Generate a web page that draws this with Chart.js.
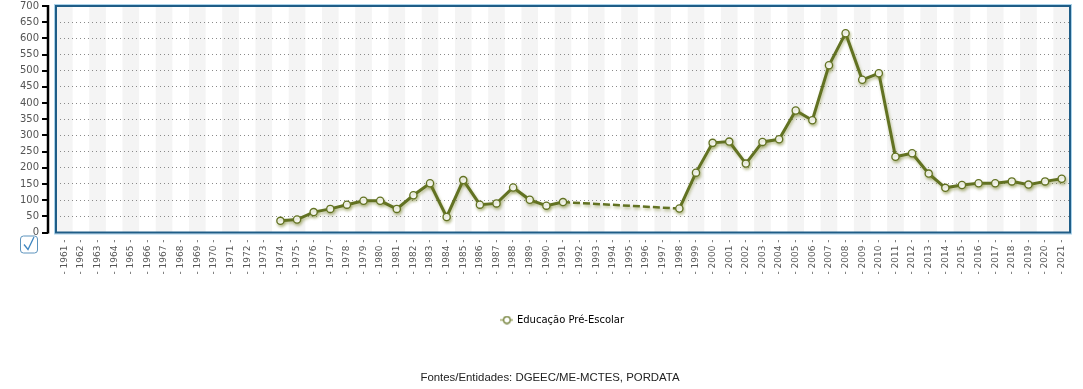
<!DOCTYPE html>
<html><head><meta charset="utf-8">
<script src="https://cdn.jsdelivr.net/npm/chart.js@4/dist/chart.umd.min.js"></script>
<style>html,body{margin:0;padding:0;background:#fff}#wrap{width:1083px;height:389px}</style>
</head><body><div id="wrap"><canvas id="c" width="1083" height="389"></canvas></div>
<script>
const years = ["1961","1962","1963","1964","1965","1966","1967","1968","1969","1970","1971","1972","1973","1974","1975","1976","1977","1978","1979","1980","1981","1982","1983","1984","1985","1986","1987","1988","1989","1990","1991","1992","1993","1994","1995","1996","1997","1998","1999","2000","2001","2002","2003","2004","2005","2006","2007","2008","2009","2010","2011","2012","2013","2014","2015","2016","2017","2018","2019","2020","2021"];
const preEscolar = [null,null,null,null,null,null,null,null,null,null,null,null,null,36,40,63,73,86,98,98,73,115,152,48,162,86,90,139,101,83,94,null,null,null,null,null,null,74,185,277,281,213,280,288,377,347,517,616,472,492,234,245,182,138,147,152,152,158,148,158,166];
const seriesName = "Educação Pré-Escolar";
const sourceText = "Fontes/Entidades: DGEEC/ME-MCTES, PORDATA";
const yMin = 0, yMax = 700, yStep = 50;

const olive = '#627222';
const isGap = c => c.p1DataIndex > 0 && preEscolar[c.p1DataIndex - 1] === null;

// legend symbol: line with hollow circle
const sym = document.createElement('canvas');
sym.width = 13; sym.height = 9;
(function(){const g = sym.getContext('2d');
g.strokeStyle = '#a3ab6a'; g.lineWidth = 1.5;
g.beginPath(); g.moveTo(0,4.5); g.lineTo(13,4.5); g.stroke();
g.fillStyle='#fff'; g.strokeStyle = olive; g.lineWidth=1.2;
g.beginPath(); g.arc(6.5,4.5,3.3,0,Math.PI*2); g.fill(); g.stroke();})();

const decor = {
  id: 'decor',
  beforeDraw(chart) {
    const {ctx, chartArea: a, scales: {x}} = chart;
    ctx.save();
    const w = x.getPixelForValue(1) - x.getPixelForValue(0);
    ctx.fillStyle = '#f4f4f4';
    for (let i = 0; i < years.length; i += 2) {
      const cx = x.getPixelForValue(i);
      ctx.fillRect(cx - w/2, a.top, w, a.bottom - a.top);
    }
    ctx.restore();
  },
  beforeDatasetsDraw(chart) {
    const ctx = chart.ctx;
    ctx.save();
    ctx.shadowColor = 'rgba(120,130,40,0.45)';
    ctx.shadowBlur = 3;
    ctx.shadowOffsetX = 1;
    ctx.shadowOffsetY = 2;
  },
  afterDatasetsDraw(chart) {
    chart.ctx.restore();
  },
  afterDraw(chart) {
    const {ctx, chartArea: a, scales: {y}} = chart;
    ctx.save();
    // plot frame
    ctx.strokeStyle = '#a9d2ea'; ctx.lineWidth = 1;
    ctx.strokeRect(a.left - 1.5, a.top - 1.5, a.right - a.left + 3, a.bottom - a.top + 3);
    ctx.strokeStyle = '#1f5d87'; ctx.lineWidth = 2;
    ctx.strokeRect(a.left, a.top, a.right - a.left, a.bottom - a.top);
    // black y axis line with ticks
    const ax = a.left - 8;
    ctx.strokeStyle = '#000'; ctx.lineWidth = 2.5;
    ctx.beginPath();
    ctx.moveTo(ax, y.getPixelForValue(yMax) - 1);
    ctx.lineTo(ax, y.getPixelForValue(yMin) + 1);
    ctx.stroke();
    ctx.lineWidth = 2;
    for (let v = yMin; v <= yMax; v += yStep) {
      const py = Math.round(y.getPixelForValue(v));
      ctx.beginPath(); ctx.moveTo(ax - 6, py); ctx.lineTo(ax, py); ctx.stroke();
    }
    // checkbox icon
    const bx = 20, by = a.bottom + 3;
    ctx.strokeStyle = '#5c93bd'; ctx.lineWidth = 1;
    ctx.beginPath();
    if (ctx.roundRect) ctx.roundRect(bx + 0.5, by + 0.5, 17, 17, 3); else ctx.rect(bx + 0.5, by + 0.5, 17, 17);
    ctx.stroke();
    ctx.strokeStyle = '#3f86c0'; ctx.lineWidth = 1.3;
    ctx.beginPath();
    ctx.moveTo(bx + 4, by + 9); ctx.lineTo(bx + 8, by + 14); ctx.lineTo(bx + 14, by + 1.5);
    ctx.stroke();
    // source footer
    ctx.fillStyle = '#222';
    ctx.font = '11.4px "Liberation Sans", Arial, sans-serif';
    ctx.textAlign = 'center'; ctx.textBaseline = 'middle';
    ctx.fillText(sourceText, 550, 378);
    ctx.restore();
  }
};

new Chart(document.getElementById('c'), {
  type: 'line',
  data: {
    labels: years,
    datasets: [{
      label: seriesName,
      data: preEscolar,
      borderColor: olive,
      backgroundColor: '#ffffff',
      borderWidth: 3,
      tension: 0,
      spanGaps: true,
      pointRadius: 3.6,
      pointBorderWidth: 1.3,
      pointBorderColor: olive,
      pointBackgroundColor: '#ffffff',
      pointHoverRadius: 4,
      segment: {
        borderDash: c => isGap(c) ? [7, 3] : undefined,
        borderWidth: c => isGap(c) ? 2.5 : undefined
      }
    }]
  },
  options: {
    responsive: false,
    animation: false,
    devicePixelRatio: 1,
    layout: { padding: { top: 6, right: 13, left: 0, bottom: 54 } },
    scales: {
      x: {
        offset: true,
        grid: { display: false, drawTicks: false },
        border: { display: false },
        ticks: {
          autoSkip: false, maxRotation: 90, minRotation: 90, padding: 7,
          color: '#555', font: { family: 'DejaVu Sans', size: 9 },
          callback: (v, i) => '- ' + years[i] + ' -'
        },
        afterFit: s => { s.height = 70; }
      },
      y: {
        min: yMin, max: yMax,
        grid: {
          drawTicks: true, tickLength: 17, tickColor: 'rgba(0,0,0,0)', lineWidth: 1,
          color: c => (c.tick && (c.tick.value === yMin || c.tick.value === yMax)) ? 'rgba(0,0,0,0)' : '#8a8a8a'
        },
        border: { display: false, dash: [1, 3] },
        ticks: { stepSize: yStep, autoSkip: false, padding: 0, color: '#555', font: { family: 'DejaVu Sans', size: 10 } },
        afterFit: s => { s.width = 56; }
      }
    },
    plugins: {
      legend: {
        position: 'bottom', fullSize: false,
        labels: {
          usePointStyle: true, padding: 12.5, color: '#444',
          font: { family: 'DejaVu Sans', size: 10 },
          generateLabels: ch => [{ text: seriesName, pointStyle: sym, fillStyle: '#fff', strokeStyle: olive, lineWidth: 0, hidden: false, datasetIndex: 0 }]
        }
      },
      tooltip: { enabled: false }
    }
  },
  plugins: [decor]
});
</script></body></html>
